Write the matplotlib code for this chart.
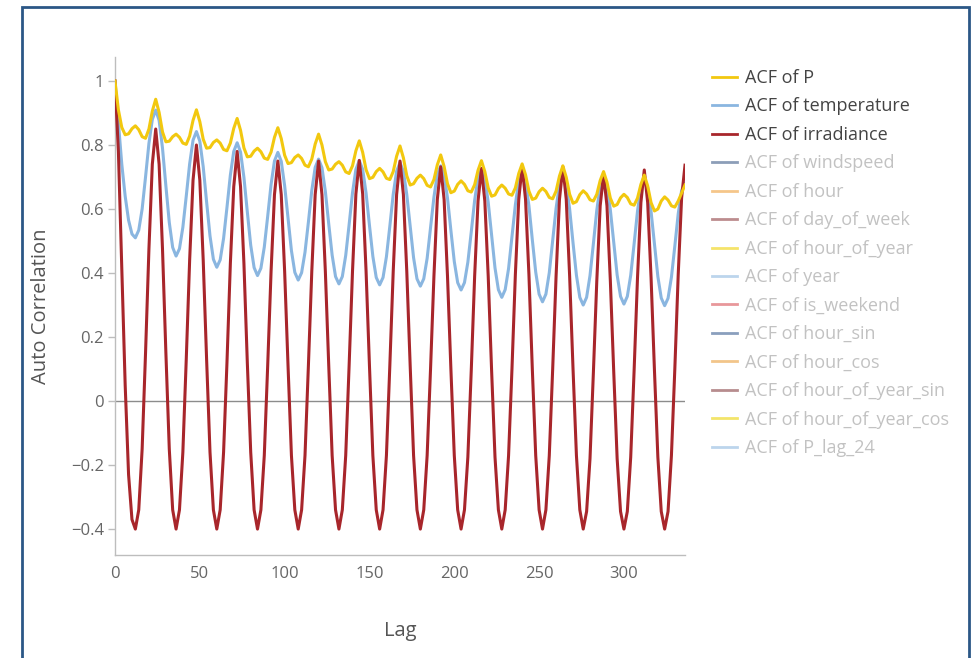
import matplotlib
matplotlib.use("Agg")
import matplotlib.pyplot as plt
from matplotlib.lines import Line2D
from matplotlib.patches import Rectangle

plt.rcParams['font.family'] = ['Open Sans', 'DejaVu Sans']

lags = list(range(0, 337, 2))

acf_P = [
    1.0, 0.91, 0.855, 0.832, 0.835, 0.851, 0.86,
    0.848, 0.826, 0.821, 0.85, 0.906, 0.943,
    0.902, 0.841, 0.81, 0.812, 0.826, 0.834,
    0.824, 0.806, 0.802, 0.828, 0.877, 0.91,
    0.873, 0.818, 0.79, 0.792, 0.808, 0.816,
    0.806, 0.786, 0.782, 0.806, 0.852, 0.883,
    0.846, 0.791, 0.763, 0.765, 0.781, 0.79,
    0.779, 0.759, 0.755, 0.778, 0.824, 0.854,
    0.82, 0.768, 0.742, 0.745, 0.761, 0.769,
    0.758, 0.737, 0.732, 0.756, 0.803, 0.834,
    0.80, 0.748, 0.722, 0.725, 0.74, 0.748,
    0.737, 0.716, 0.711, 0.735, 0.782, 0.813,
    0.777, 0.723, 0.695, 0.699, 0.717, 0.727,
    0.716, 0.696, 0.692, 0.717, 0.765, 0.797,
    0.76, 0.704, 0.675, 0.679, 0.696, 0.706,
    0.695, 0.674, 0.669, 0.692, 0.738, 0.769,
    0.733, 0.679, 0.651, 0.656, 0.677, 0.688,
    0.677, 0.657, 0.653, 0.676, 0.721, 0.751,
    0.717, 0.666, 0.64, 0.644, 0.664, 0.675,
    0.665, 0.647, 0.643, 0.666, 0.711, 0.741,
    0.707, 0.656, 0.63, 0.634, 0.654, 0.665,
    0.655, 0.636, 0.632, 0.656, 0.703, 0.735,
    0.699, 0.646, 0.618, 0.623, 0.645, 0.657,
    0.647, 0.629, 0.625, 0.646, 0.689, 0.717,
    0.684, 0.634, 0.609, 0.614, 0.635, 0.646,
    0.636, 0.616, 0.612, 0.634, 0.677, 0.706,
    0.672, 0.62, 0.594, 0.60, 0.625, 0.638,
    0.628, 0.61, 0.606, 0.625, 0.65, 0.675,
]

acf_temperature = [
    1.0, 0.87, 0.74, 0.64, 0.565, 0.522, 0.51,
    0.534, 0.60, 0.70, 0.805, 0.88, 0.909,
    0.877, 0.79, 0.672, 0.558, 0.48, 0.453,
    0.476, 0.543, 0.64, 0.741, 0.815, 0.842,
    0.812, 0.732, 0.622, 0.516, 0.443, 0.418,
    0.441, 0.508, 0.605, 0.706, 0.78, 0.807,
    0.778, 0.699, 0.591, 0.487, 0.417, 0.392,
    0.415, 0.481, 0.577, 0.677, 0.75, 0.777,
    0.749, 0.673, 0.57, 0.47, 0.402, 0.378,
    0.401, 0.465, 0.559, 0.658, 0.73, 0.756,
    0.729, 0.655, 0.553, 0.456, 0.389, 0.366,
    0.389, 0.455, 0.551, 0.651, 0.724, 0.751,
    0.724, 0.65, 0.549, 0.452, 0.386, 0.363,
    0.386, 0.451, 0.546, 0.646, 0.718, 0.745,
    0.718, 0.645, 0.545, 0.448, 0.382, 0.359,
    0.382, 0.446, 0.54, 0.637, 0.709, 0.735,
    0.708, 0.634, 0.533, 0.436, 0.37, 0.347,
    0.37, 0.434, 0.528, 0.627, 0.699, 0.725,
    0.697, 0.621, 0.517, 0.416, 0.348, 0.324,
    0.348, 0.414, 0.512, 0.613, 0.688, 0.715,
    0.687, 0.61, 0.504, 0.403, 0.334, 0.31,
    0.334, 0.401, 0.50, 0.602, 0.677, 0.705,
    0.677, 0.60, 0.494, 0.393, 0.324, 0.30,
    0.324, 0.392, 0.492, 0.596, 0.672, 0.70,
    0.672, 0.597, 0.494, 0.394, 0.327, 0.303,
    0.327, 0.393, 0.491, 0.593, 0.668, 0.695,
    0.667, 0.592, 0.489, 0.389, 0.322, 0.298,
    0.321, 0.387, 0.484, 0.585, 0.658, 0.68,
]

acf_irradiance = [
    1.0, 0.78, 0.42, 0.05, -0.23, -0.37, -0.40,
    -0.34, -0.15, 0.15, 0.475, 0.74, 0.85,
    0.74, 0.475, 0.15, -0.15, -0.34, -0.40,
    -0.34, -0.16, 0.13, 0.44, 0.69, 0.80,
    0.69, 0.44, 0.13, -0.16, -0.34, -0.40,
    -0.34, -0.16, 0.12, 0.43, 0.67, 0.78,
    0.67, 0.43, 0.12, -0.16, -0.34, -0.40,
    -0.34, -0.17, 0.11, 0.405, 0.645, 0.75,
    0.645, 0.405, 0.11, -0.17, -0.34, -0.40,
    -0.34, -0.17, 0.11, 0.405, 0.645, 0.75,
    0.645, 0.405, 0.11, -0.17, -0.34, -0.40,
    -0.34, -0.17, 0.11, 0.405, 0.647, 0.752,
    0.647, 0.406, 0.11, -0.17, -0.34, -0.40,
    -0.34, -0.17, 0.11, 0.405, 0.645, 0.75,
    0.645, 0.405, 0.11, -0.17, -0.34, -0.40,
    -0.34, -0.17, 0.10, 0.39, 0.63, 0.732,
    0.63, 0.39, 0.10, -0.17, -0.34, -0.40,
    -0.34, -0.175, 0.095, 0.39, 0.625, 0.727,
    0.625, 0.39, 0.095, -0.175, -0.34, -0.40,
    -0.34, -0.17, 0.10, 0.395, 0.63, 0.734,
    0.63, 0.395, 0.10, -0.17, -0.34, -0.40,
    -0.34, -0.17, 0.10, 0.39, 0.63, 0.732,
    0.63, 0.39, 0.10, -0.17, -0.34, -0.40,
    -0.345, -0.18, 0.09, 0.375, 0.61, 0.708,
    0.61, 0.375, 0.09, -0.18, -0.345, -0.40,
    -0.345, -0.175, 0.095, 0.385, 0.62, 0.722,
    0.62, 0.385, 0.095, -0.175, -0.345, -0.40,
    -0.345, -0.17, 0.10, 0.395, 0.635, 0.737,
]

legend_labels = [
    "ACF of P", "ACF of temperature", "ACF of irradiance", "ACF of windspeed",
    "ACF of hour", "ACF of day_of_week", "ACF of hour_of_year", "ACF of year",
    "ACF of is_weekend", "ACF of hour_sin", "ACF of hour_cos",
    "ACF of hour_of_year_sin", "ACF of hour_of_year_cos", "ACF of P_lag_24",
]
legend_colors = [
    "#F2C80F", "#8AB6E0", "#A8262B", "#8C9EB8",
    "#F5C68A", "#BC8C8E", "#F5E46A", "#BCD5EC",
    "#E8979A", "#8A9FBD", "#F2C58A",
    "#B78C8E", "#F3E56A", "#BCD5EC",
]
legend_active = [True, True, True] + [False] * 11

x_ticks = [0, 50, 100, 150, 200, 250, 300]
y_ticks = [-0.4, -0.2, 0, 0.2, 0.4, 0.6, 0.8, 1]
y_tick_labels = ["\u22120.4", "\u22120.2", "0", "0.2", "0.4", "0.6", "0.8", "1"]

W, H = 972, 658
fig = plt.figure(figsize=(W / 100, H / 100), dpi=100, facecolor="white")

# outer frame
fig.add_artist(Rectangle((22 / W, -0.05), (969 - 22) / W, 1.05 - 7 / H,
                         transform=fig.transFigure, fill=False,
                         edgecolor="#2B5786", linewidth=2.0))

ax = fig.add_axes([115 / W, 1 - 555 / H, (685 - 115) / W, (555 - 57) / H])
ax.set_facecolor("white")

ax.axhline(0, color="#8C8C8C", linewidth=1.0, zorder=1)
ax.plot(lags, acf_temperature, color=legend_colors[1], linewidth=2.2, zorder=2,
        solid_joinstyle="round")
ax.plot(lags, acf_irradiance, color=legend_colors[2], linewidth=2.2, zorder=3,
        solid_joinstyle="round")
ax.plot(lags, acf_P, color=legend_colors[0], linewidth=2.2, zorder=4,
        solid_joinstyle="round")

ax.set_xlim(0, 336)
ax.set_ylim(-0.481, 1.075)
ax.set_xticks(x_ticks)
ax.set_xticklabels([str(t) for t in x_ticks])
ax.set_yticks(y_ticks)
ax.set_yticklabels(y_tick_labels)

for s in ["top", "right"]:
    ax.spines[s].set_visible(False)
for s in ["left", "bottom"]:
    ax.spines[s].set_color("#BDBDBD")
    ax.spines[s].set_linewidth(1.0)

ax.tick_params(axis="x", length=0, pad=8, labelsize=12, labelcolor="#666666")
ax.tick_params(axis="y", length=5, width=1, color="#BDBDBD", pad=3,
               labelsize=12, labelcolor="#666666")

ax.set_xlabel("Lag", fontsize=14.5, color="#555555", labelpad=28)
ax.set_ylabel("Auto Correlation", fontsize=14.5, color="#555555", labelpad=14)

handles = [Line2D([], [], color=c, linewidth=2.0) for c in legend_colors]
leg = fig.legend(handles, legend_labels, loc="upper left",
                 bbox_to_anchor=(712 / W, 1 - 69 / H), frameon=False,
                 fontsize=13, handlelength=1.4, handletextpad=0.45,
                 labelspacing=0.58, borderaxespad=0, borderpad=0)
for txt, active in zip(leg.get_texts(), legend_active):
    txt.set_color("#444444" if active else "#C2C2C2")

fig.savefig("out.png", dpi=100, facecolor="white")
